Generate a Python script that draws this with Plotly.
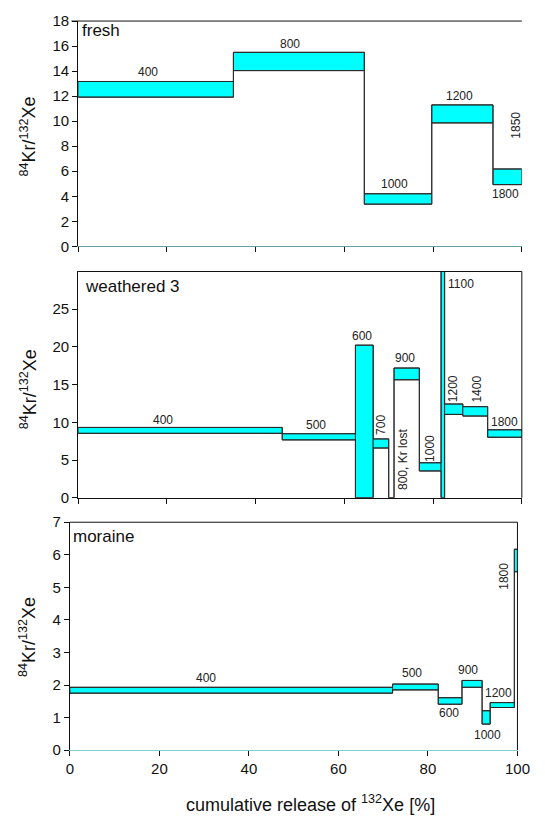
import plotly.graph_objects as go

# ---------------- data ----------------
# fresh
fresh_steps = ["400", "800", "1000", "1200", "1800"]
fresh_edges = [0, 35.0, 64.5, 79.7, 93.5, 100]
fresh_lo = [11.92, 14.04, 3.37, 9.86, 4.93]
fresh_hi = [13.17, 15.5, 4.2, 11.3, 6.18]

# weathered 3
weath_steps = ["400", "500", "600", "700", "800", "900", "1000", "1100", "1200", "1400", "1800"]
weath_edges = [0, 46.0, 62.5, 66.5, 70.0, 71.2, 76.9, 81.8, 82.6, 86.7, 92.3, 100]
weath_lo = [8.54, 7.67, 0, 6.59, 0, 15.64, 3.55, 0, 11.05, 10.83, 8.02]
weath_hi = [9.32, 8.49, 20.23, 7.8, 0, 17.2, 4.64, 40, 12.43, 12.08, 9.01]

# moraine
mor_steps = ["400", "500", "600", "900", "1000", "1200", "1800"]
mor_edges = [0, 72.1, 82.3, 87.6, 92.1, 93.9, 99.3, 100]
mor_lo = [1.75, 1.85, 1.41, 1.93, 0.8, 1.31, 5.48]
mor_hi = [1.93, 2.03, 1.61, 2.14, 1.21, 1.46, 6.17]

x_ticks = [0, 20, 40, 60, 80, 100]
fresh_yticks = [0, 2, 4, 6, 8, 10, 12, 14, 16, 18]
weath_yticks = [0, 5, 10, 15, 20, 25]
mor_yticks = [0, 1, 2, 3, 4, 5, 6, 7]

# label placement (text, x, y, angle)
fresh_labels = [("400", 15.8, 13.9, 0), ("800", 47.8, 16.15, 0), ("1000", 71.3, 4.96, 0),
                ("1200", 85.9, 12.05, 0), ("1800", 96.4, 4.2, 0), ("1850", 98.5, 9.65, -90)]
weath_labels = [("400", 19.2, 10.35, 0), ("500", 53.6, 9.7, 0), ("600", 64.0, 21.5, 0),
                ("700", 68.4, 9.6, -90), ("800, Kr lost", 73.1, 5.07, -90), ("900", 73.6, 18.5, 0),
                ("1000", 79.3, 6.6, -90), ("1100", 86.2, 28.3, 0), ("1200", 84.5, 14.4, -90),
                ("1400", 90.0, 14.4, -90), ("1800", 96.0, 10.05, 0)]
mor_labels = [("400", 30.5, 2.22, 0), ("500", 76.5, 2.37, 0), ("600", 84.6, 1.13, 0),
              ("900", 89.0, 2.47, 0), ("1000", 93.3, 0.47, 0), ("1200", 95.8, 1.76, 0),
              ("1800", 97.1, 5.34, -90)]

FONT = "Liberation Sans, Arial, sans-serif"
CYAN = "#00FFFF"
EDGE = "#2a2a2a"
W, H = 545, 827

fig = go.Figure()


def add_panel(edges, lo, hi, xa, ya):
    for i in range(len(lo)):
        if hi[i] <= lo[i]:
            continue
        x0, x1 = edges[i], edges[i + 1]
        fig.add_trace(go.Scatter(
            x=[x0, x1, x1, x0, x0], y=[lo[i], lo[i], hi[i], hi[i], lo[i]],
            fill="toself", fillcolor=CYAN, mode="lines",
            line=dict(color=EDGE, width=1), xaxis=xa, yaxis=ya,
            hoverinfo="skip", showlegend=False))
    for vals in (hi, lo):
        fig.add_trace(go.Scatter(
            x=edges, y=list(vals) + [vals[-1]], mode="lines",
            line=dict(color=EDGE, width=1, shape="hv"), xaxis=xa, yaxis=ya,
            hoverinfo="skip", showlegend=False))


add_panel(fresh_edges, fresh_lo, fresh_hi, "x", "y")
add_panel(weath_edges, weath_lo, weath_hi, "x2", "y2")
add_panel(mor_edges, mor_lo, mor_hi, "x3", "y3")


def px_x(p):
    return p / W


def px_y(p):
    return 1 - p / H


dom_top_x = [px_x(76.5), px_x(534.5)]
dom_mid_x = [px_x(76.5), px_x(534.5)]
dom_bot_x = [px_x(68), px_x(530)]
dom_top_y = [px_y(242.3), px_y(12.3)]
dom_mid_y = [px_y(499), px_y(268)]
dom_bot_y = [px_y(756.7), px_y(524)]

tickfont = dict(family=FONT, size=15, color="#111")


def xaxis(dom, anchor, labels, linecolor):
    return dict(domain=dom, anchor=anchor, range=[0, 100], tickvals=x_ticks,
                showticklabels=labels, ticks="outside", ticklen=5, tickcolor="#111",
                showline=True, linecolor=linecolor, linewidth=1, showgrid=False,
                zeroline=False, tickfont=tickfont, fixedrange=True)


def yaxis(dom, anchor, rng, tv):
    return dict(domain=dom, anchor=anchor, range=rng, tickvals=tv,
                ticks="outside", ticklen=5, tickcolor="#111", showline=True,
                linecolor="#111", linewidth=1, showgrid=False, zeroline=False,
                tickfont=tickfont, fixedrange=True)


fig.update_layout(
    width=W, height=H, margin=dict(l=0, r=0, t=0, b=0),
    paper_bgcolor="white", plot_bgcolor="white", showlegend=False,
    font=dict(family=FONT, color="#111"),
    xaxis=xaxis(dom_top_x, "y", False, "#5f9ea0"),
    yaxis=yaxis(dom_top_y, "x", [0, 18], fresh_yticks),
    xaxis2=xaxis(dom_mid_x, "y2", False, "#111"),
    yaxis2=yaxis(dom_mid_y, "x2", [0, 30], weath_yticks),
    xaxis3=xaxis(dom_bot_x, "y3", True, "#7fcfcf"),
    yaxis3=yaxis(dom_bot_y, "x3", [0, 7], mor_yticks),
)

# frame lines
shapes = []
shapes.append(dict(type="line", xref="x domain", yref="y domain", x0=-0.015, x1=1.0, y0=1, y1=1,
                   line=dict(color="#111", width=1)))
for xr, yr in (("x2 domain", "y2 domain"), ("x3 domain", "y3 domain")):
    shapes.append(dict(type="line", xref=xr, yref=yr, x0=0, x1=1, y0=1, y1=1,
                       line=dict(color="#111", width=1)))
    shapes.append(dict(type="line", xref=xr, yref=yr, x0=1, x1=1, y0=0, y1=1,
                       line=dict(color="#111", width=1)))
fig.update_layout(shapes=shapes)

ann = []
for labels, xa, ya in ((fresh_labels, "x", "y"), (weath_labels, "x2", "y2"), (mor_labels, "x3", "y3")):
    for t, x, y, a in labels:
        ann.append(dict(text=t, x=x, y=y, xref=xa, yref=ya, showarrow=False,
                        xanchor="center", yanchor="middle",
                        textangle=a, font=dict(family=FONT, size=12, color="#222")))

ytitle = "<sup>84</sup>Kr/<sup>132</sup>Xe"
for yc in (130, 388, 641):
    ann.append(dict(text=ytitle, x=px_x(25), y=px_y(yc), xref="paper", yref="paper",
                    xanchor="center", yanchor="middle",
                    showarrow=False, textangle=-90, font=dict(family=FONT, size=18, color="#111")))

for name, xl, yc in (("fresh", 78, 22), ("weathered 3", 82, 283), ("moraine", 69, 539)):
    ann.append(dict(text=name, x=px_x(xl), y=px_y(yc), xref="paper", yref="paper",
                    showarrow=False, xanchor="left", yanchor="middle",
                    font=dict(family=FONT, size=17, color="#111")))
ann.append(dict(text="cumulative release of <sup>132</sup>Xe [%]", x=px_x(316), y=px_y(811),
                xref="paper", yref="paper", showarrow=False,
                xanchor="center", yanchor="middle",
                font=dict(family=FONT, size=18, color="#111")))
fig.update_layout(annotations=ann)

fig.write_html("out.html", config={"displayModeBar": False},
               post_script="document.body.style.margin='0';document.body.style.overflow='hidden';")
